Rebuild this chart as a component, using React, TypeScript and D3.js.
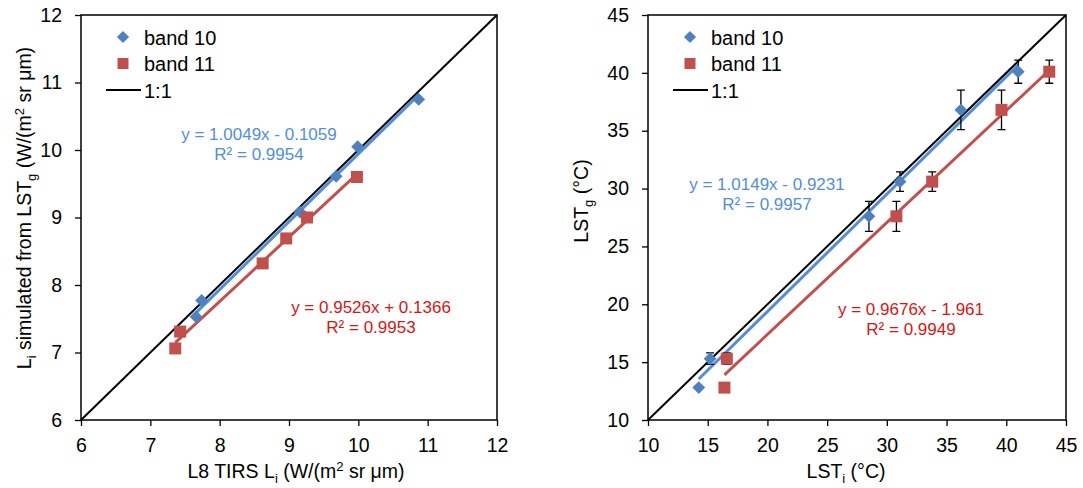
import React, { useRef, useEffect } from 'react';
import * as d3 from 'd3';

// left panel: radiance (W/(m2 sr um))
const radB10X = [7.66, 7.74, 9.16, 9.68, 9.99, 10.87];
const radB10Y = [7.53, 7.77, 9.08, 9.61, 10.05, 10.75];
const radB11X = [7.36, 7.43, 8.62, 8.96, 9.26, 9.98];
const radB11Y = [7.06, 7.31, 8.32, 8.69, 9.0, 9.6];
const radTicks = [6, 7, 8, 9, 10, 11, 12];

// right panel: temperature (deg C), LST_g shared by both bands
const tempB10X = [14.25, 15.2, 28.5, 31.1, 36.2, 41.0];
const tempB11X = [16.4, 16.6, 30.8, 33.8, 39.6, 43.6];
const tempY = [12.8, 15.3, 27.6, 30.6, 36.8, 40.1];
const tempErr = [0, 0.5, 1.3, 0.85, 1.7, 1.0];
const tempTicks = [10, 15, 20, 25, 30, 35, 40, 45];

// trendline fits shown on the chart
const radFit10 = { slope: 1.0049, icpt: -0.1059, eq: 'y = 1.0049x - 0.1059', r2: 'R² = 0.9954' };
const radFit11 = { slope: 0.9526, icpt: 0.1366, eq: 'y = 0.9526x + 0.1366', r2: 'R² = 0.9953' };
const tempFit10 = { slope: 1.0149, icpt: -0.9231, eq: 'y = 1.0149x - 0.9231', r2: 'R² = 0.9957' };
const tempFit11 = { slope: 0.9676, icpt: -1.961, eq: 'y = 0.9676x - 1.961', r2: 'R² = 0.9949' };

const BLUE = '#4F81BD';
const RED = '#C0504D';
const BLUE_TXT = '#558ED5';
const RED_TXT = '#D01818';
const FONT = 'Liberation Sans, Arial, sans-serif';

function drawPanel(svg, o) {
  const x = d3.scaleLinear().domain(o.domain).range([o.left, o.right]);
  const y = d3.scaleLinear().domain(o.domain).range([o.bottom, o.top]);
  const g = svg.append('g');

  // 1:1 line
  g.append('line')
    .attr('x1', x(o.domain[0])).attr('y1', y(o.domain[0]))
    .attr('x2', x(o.domain[1])).attr('y2', y(o.domain[1]))
    .attr('stroke', '#000').attr('stroke-width', 2);

  // frame
  g.append('rect')
    .attr('x', o.left).attr('y', o.top)
    .attr('width', o.right - o.left).attr('height', o.bottom - o.top)
    .attr('fill', 'none').attr('stroke', '#000').attr('stroke-width', 1.5);

  g.append('g')
    .attr('transform', `translate(0,${o.bottom})`)
    .call(d3.axisBottom(x).tickValues(o.ticks).tickFormat(d3.format('d')).tickSize(6).tickSizeOuter(0).tickPadding(12))
    .call(a => a.select('.domain').remove())
    .call(a => a.selectAll('.tick line').attr('stroke-width', 1.3))
    .call(a => a.selectAll('text').attr('font-size', 19.5).attr('font-family', FONT).attr('fill', '#000'));

  g.append('g')
    .attr('transform', `translate(${o.left},0)`)
    .call(d3.axisLeft(y).tickValues(o.ticks).tickFormat(d3.format('d')).tickSize(6).tickSizeOuter(0).tickPadding(13))
    .call(a => a.select('.domain').remove())
    .call(a => a.selectAll('.tick line').attr('stroke-width', 1.3))
    .call(a => a.selectAll('text').attr('font-size', 19.5).attr('font-family', FONT).attr('fill', '#000'));

  // trendlines
  const trend = (xs, fit, color) => {
    const x0 = d3.min(xs), x1 = d3.max(xs);
    g.append('line')
      .attr('x1', x(x0)).attr('y1', y(fit.slope * x0 + fit.icpt))
      .attr('x2', x(x1)).attr('y2', y(fit.slope * x1 + fit.icpt))
      .attr('stroke', color).attr('stroke-width', 3);
  };
  trend(o.b10x, o.fit10, BLUE_TXT);
  trend(o.b11x, o.fit11, RED);

  // error bars
  if (o.err) {
    const bars = (xs) => {
      xs.forEach((xv, i) => {
        const e = o.err[i];
        if (!e) return;
        const px = x(xv);
        g.append('path')
          .attr('d', `M${px},${y(o.b10y[i] + e)}V${y(o.b10y[i] - e)}M${px - 4},${y(o.b10y[i] + e)}h8M${px - 4},${y(o.b10y[i] - e)}h8`)
          .attr('stroke', '#000').attr('stroke-width', 1.3).attr('fill', 'none');
      });
    };
    bars(o.b10x);
    bars(o.b11x);
  }

  const diamond = d3.symbol().type(d3.symbolDiamond2).size(105);
  g.selectAll('.d10').data(o.b10x).join('path')
    .attr('transform', (d, i) => `translate(${x(d)},${y(o.b10y[i])})`)
    .attr('d', diamond).attr('fill', BLUE);

  g.selectAll('.s11').data(o.b11x).join('rect')
    .attr('x', d => x(d) - 6).attr('y', (d, i) => y(o.b11y[i]) - 6)
    .attr('width', 12).attr('height', 12).attr('fill', RED);

  // legend
  const lx = o.left + 42;
  g.append('path').attr('transform', `translate(${lx},37)`).attr('d', d3.symbol().type(d3.symbolDiamond2).size(95)).attr('fill', BLUE);
  g.append('rect').attr('x', lx - 5.5).attr('y', 58).attr('width', 11).attr('height', 11).attr('fill', RED);
  g.append('line').attr('x1', lx - 17).attr('x2', lx + 18).attr('y1', 90).attr('y2', 90).attr('stroke', '#000').attr('stroke-width', 2);
  const leg = [['band 10', 44.5], ['band 11', 71], ['1:1', 97.5]];
  leg.forEach(([t, yy]) => {
    g.append('text').attr('x', lx + 21).attr('y', yy).text(t)
      .attr('font-size', 20).attr('font-family', FONT).attr('fill', '#000');
  });

  // equations
  const eqn = (fit, pos, color) => {
    const t = g.append('text').attr('text-anchor', 'middle').attr('font-size', 17)
      .attr('font-family', FONT).attr('fill', color);
    t.append('tspan').attr('x', pos[0]).attr('y', pos[1]).text(fit.eq);
    t.append('tspan').attr('x', pos[0]).attr('y', pos[1] + 20).text(fit.r2);
  };
  eqn(o.fit10, o.eq10, BLUE_TXT);
  eqn(o.fit11, o.eq11, RED_TXT);

  return g;
}

function subText(g, x, y, parts, rotate) {
  const t = g.append('text')
    .attr('text-anchor', 'middle').attr('font-size', 19.5).attr('font-family', FONT).attr('fill', '#000')
    .attr('transform', rotate ? `translate(${x},${y}) rotate(-90)` : `translate(${x},${y})`);
  let shift = 0;
  parts.forEach(([s, kind]) => {
    const sp = t.append('tspan').text(s);
    const target = kind === 'sub' ? 5 : kind === 'sup' ? -7 : 0;
    if (target !== shift) sp.attr('dy', target - shift);
    if (kind) sp.attr('font-size', 13);
    shift = target;
  });
}

export default function App() {
  const svgRef = useRef(null);

  useEffect(() => {
    const svg = d3.select(svgRef.current);
    svg.selectAll('*').remove();

    const left = drawPanel(svg, {
      domain: [6, 12], ticks: radTicks, left: 81, right: 497, top: 15, bottom: 420,
      b10x: radB10X, b10y: radB10Y, b11x: radB11X, b11y: radB11Y,
      fit10: radFit10, fit11: radFit11, eq10: [259, 140], eq11: [371, 313],
    });
    subText(left, 296, 478, [['L8 TIRS L', ''], ['i', 'sub'], [' (W/(m', ''], ['2', 'sup'], [' sr μm)', '']], false);
    subText(left, 31, 208, [['L', ''], ['i', 'sub'], [' simulated from LST', ''], ['g', 'sub'], [' (W/(m', ''], ['2', 'sup'], [' sr μm)', '']], true);

    const right = drawPanel(svg, {
      domain: [10, 45], ticks: tempTicks, left: 648, right: 1066, top: 15, bottom: 420,
      b10x: tempB10X, b10y: tempY, b11x: tempB11X, b11y: tempY, err: tempErr,
      fit10: tempFit10, fit11: tempFit11, eq10: [767, 190], eq11: [911, 315],
    });
    subText(right, 846, 478, [['LST', ''], ['i', 'sub'], [' (°C)', '']], false);
    subText(right, 588, 201, [['LST', ''], ['g', 'sub'], [' (°C)', '']], true);
  }, []);

  return (
    <div style={{ position: 'fixed', left: 0, top: 0, width: 1083, height: 488, background: '#fff' }}>
      <svg ref={svgRef} width={1083} height={488}></svg>
    </div>
  );
}
